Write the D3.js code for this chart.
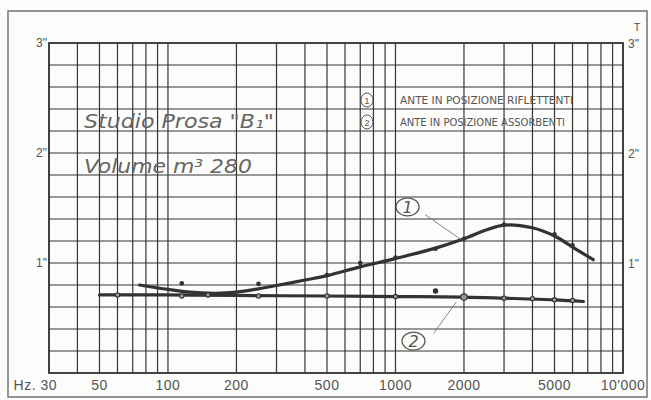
<!DOCTYPE html>
<html>
<head>
<meta charset="utf-8">
<script src="https://cdn.jsdelivr.net/npm/d3@7/dist/d3.min.js"></script>
<style>
  html, body { margin: 0; padding: 0; background: #fcfcfb; }
  svg { display: block; }
</style>
</head>
<body>
<svg id="chart" width="651" height="400"></svg>
<script>
// Reverberation time T (seconds) versus frequency, Studio Prosa "B1"
const gridFreqs = [30, 40, 50, 60, 70, 80, 90, 100, 200, 300, 400, 500, 600, 700, 800, 900,
                   1000, 2000, 3000, 4000, 5000, 6000, 7000, 8000, 9000, 10000];
const freqTickValues = [30, 50, 100, 200, 500, 1000, 2000, 5000, 10000];
const freqTickLabels = ["Hz. 30", "50", "100", "200", "500", "1000", "2000", "5000", "10'000"];
const timeTickValues = [1, 2, 3];
const timeTickLabels = ['1"', '2"', '3"'];

// Curve 1: panels in reflecting position
const curve1Freq = [75, 100, 125, 160, 200, 250, 300, 400, 500, 700, 1000, 1500, 2000, 2500, 3000, 4000, 5000, 6000, 7400];
const curve1T    = [0.80, 0.76, 0.735, 0.725, 0.735, 0.765, 0.795, 0.845, 0.885, 0.965, 1.04, 1.135, 1.22, 1.30, 1.345, 1.32, 1.245, 1.145, 1.03];
// Curve 2: panels in absorbing position
const curve2Freq = [50, 100, 200, 500, 1000, 2000, 3000, 5000, 6700];
const curve2T    = [0.71, 0.71, 0.705, 0.70, 0.695, 0.69, 0.68, 0.665, 0.65];

// Measured points
const points1Freq = [115, 250, 500, 700, 1000, 1500, 2000, 3000, 5000, 6000];
const points1T    = [0.815, 0.81, 0.89, 1.0, 1.05, 1.13, 1.22, 1.35, 1.26, 1.16];
const points2Freq = [60, 115, 150, 250, 500, 1000, 1500, 2000, 3000, 4000, 5000, 6000];
const points2T    = [0.71, 0.70, 0.71, 0.70, 0.70, 0.695, 0.745, 0.69, 0.68, 0.675, 0.665, 0.66];

const legendLabels = ["ANTE IN POSIZIONE RIFLETTENTI", "ANTE IN POSIZIONE ASSORBENTI"];
const titleLines = ['Studio Prosa "B\u2081"', "Volume m\u00B3  280"];

const svg = d3.select("#chart");
const ink = "#353535";
const textInk = "#555";
const paper = "#fcfcfb";

const x = d3.scaleLog().domain([30, 10000]).range([49, 623]);
const y = d3.scaleLinear().domain([0, 3]).range([373, 43]);

// outer sheet frame
svg.append("rect")
  .attr("x", 8).attr("y", 11).attr("width", 639).attr("height", 386)
  .attr("fill", "none").attr("stroke", "#7a7a7a").attr("stroke-width", 1.6);

// grid
const grid = svg.append("g").attr("stroke", ink).attr("stroke-width", 1.2);
grid.selectAll("line.v").data(gridFreqs).join("line")
  .attr("x1", d => x(d)).attr("x2", d => x(d))
  .attr("y1", y(3)).attr("y2", y(0));
grid.selectAll("line.h").data(d3.range(0, 16).map(i => i * 0.2)).join("line")
  .attr("x1", x(30)).attr("x2", x(10000))
  .attr("y1", d => y(d)).attr("y2", d => y(d));
svg.append("rect")
  .attr("x", x(30)).attr("y", y(3))
  .attr("width", x(10000) - x(30)).attr("height", y(0) - y(3))
  .attr("fill", "none").attr("stroke", ink).attr("stroke-width", 1.7);

// frequency labels
const fontAxis = "'Liberation Sans', Arial, sans-serif";
svg.append("g").selectAll("text").data(freqTickValues).join("text")
  .attr("x", (d, i) => i === 0 ? x(d) + 8 : x(d))
  .attr("y", y(0) + 17)
  .attr("text-anchor", (d, i) => i === 0 ? "end" : "middle")
  .attr("font-family", fontAxis).attr("font-size", 14)
  .attr("letter-spacing", 0.5)
  .attr("fill", textInk)
  .text((d, i) => freqTickLabels[i]);

// time labels on both sides
const yLab = svg.append("g").attr("font-family", fontAxis).attr("font-size", 12).attr("fill", textInk);
yLab.selectAll("text.l").data(timeTickValues).join("text")
  .attr("x", x(30) - 2).attr("y", d => y(d) + 4)
  .attr("text-anchor", "end")
  .text((d, i) => timeTickLabels[i]);
yLab.selectAll("text.r").data(timeTickValues).join("text")
  .attr("class", "r")
  .attr("x", x(10000) + 5).attr("y", d => y(d) + 5)
  .text((d, i) => timeTickLabels[i]);
yLab.append("text")
  .attr("x", x(10000) + 14).attr("y", y(3) - 12)
  .attr("text-anchor", "middle").attr("font-size", 11)
  .text("T");

// title block
const titleFont = "'DejaVu Sans', sans-serif";
svg.append("g").selectAll("text").data(titleLines).join("text")
  .attr("x", 84).attr("y", (d, i) => i === 0 ? 128 : 173)
  .attr("font-family", titleFont).attr("font-style", "italic")
  .attr("font-size", 19)
  .attr("fill", "#666")
  .attr("textLength", (d, i) => i === 0 ? 190 : 168)
  .attr("lengthAdjust", "spacingAndGlyphs")
  .text(d => d);

// legend
const legend = svg.append("g").attr("fill", textInk);
legendLabels.forEach((lab, i) => {
  const cy = 100 + i * 22;
  legend.append("ellipse").attr("cx", 367).attr("cy", cy).attr("rx", 6).attr("ry", 7)
    .attr("fill", paper).attr("stroke", textInk).attr("stroke-width", 1);
  legend.append("text").attr("x", 367).attr("y", cy + 3.5)
    .attr("text-anchor", "middle").attr("font-family", fontAxis).attr("font-size", 9)
    .text(i + 1);
  legend.append("text").attr("x", 400).attr("y", cy + 4)
    .attr("font-family", "'Liberation Sans Narrow', 'DejaVu Sans Condensed', sans-serif")
    .attr("font-size", 10.5)
    .attr("textLength", i === 0 ? 173 : 165).attr("lengthAdjust", "spacingAndGlyphs")
    .text(lab);
});

// curves
const line = d3.line().x(d => x(d[0])).y(d => y(d[1])).curve(d3.curveCatmullRom.alpha(0.5));
const c1 = d3.zip(curve1Freq, curve1T);
const c2 = d3.zip(curve2Freq, curve2T);
svg.append("path").datum(c2).attr("d", line)
  .attr("fill", "none").attr("stroke", "#333").attr("stroke-width", 3.2).attr("stroke-linecap", "round");
svg.append("path").datum(c1).attr("d", line)
  .attr("fill", "none").attr("stroke", "#333").attr("stroke-width", 3.2).attr("stroke-linecap", "round");

// measured points
const p1 = d3.zip(points1Freq, points1T);
const p2 = d3.zip(points2Freq, points2T);
svg.append("g").selectAll("circle").data(p1).join("circle")
  .attr("cx", d => x(d[0])).attr("cy", d => y(d[1])).attr("r", 2.3)
  .attr("fill", "#333");
svg.append("g").selectAll("circle").data(p2).join("circle")
  .attr("cx", d => x(d[0])).attr("cy", d => y(d[1])).attr("r", (d, i) => i === 7 ? 3.2 : 2.2)
  .attr("fill", (d, i) => i === 6 ? "#333" : "#9a9a9a")
  .attr("stroke", "#333").attr("stroke-width", 1.1);

// callouts
const callouts = [
  { label: "1", at: [1130, 1.51], to: [1950, 1.21], from: [1350, 1.44] },
  { label: "2", at: [1200, 0.29], to: [1850, 0.645], from: [1470, 0.36] }
];
const co = svg.append("g");
callouts.forEach(c => {
  co.append("line")
    .attr("x1", x(c.from[0])).attr("y1", y(c.from[1]))
    .attr("x2", x(c.to[0])).attr("y2", y(c.to[1]))
    .attr("stroke", "#777").attr("stroke-width", 0.9);
  co.append("ellipse").attr("cx", x(c.at[0])).attr("cy", y(c.at[1])).attr("rx", 11.5).attr("ry", 9)
    .attr("fill", paper).attr("stroke", "#555").attr("stroke-width", 1.2);
  co.append("text").attr("x", x(c.at[0])).attr("y", y(c.at[1]) + 6)
    .attr("text-anchor", "middle").attr("font-family", titleFont).attr("font-style", "italic")
    .attr("font-size", 16).attr("fill", "#555")
    .text(c.label);
});
</script>
</body>
</html>
